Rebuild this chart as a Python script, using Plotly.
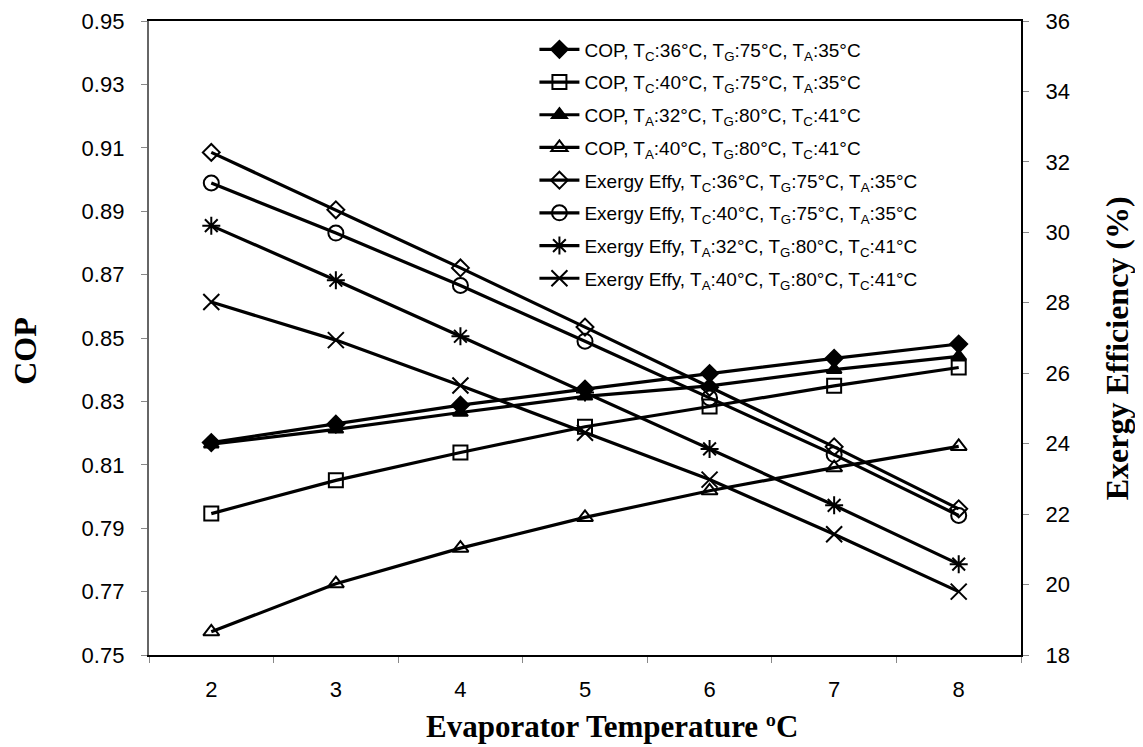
import plotly.graph_objects as go

evap_temp = [2, 3, 4, 5, 6, 7, 8]

cop_tc36 = [0.8170, 0.8228, 0.8288, 0.8339, 0.8388, 0.8436, 0.8481]
cop_tc40 = [0.7946, 0.8051, 0.8139, 0.8220, 0.8284, 0.8349, 0.8407]
cop_ta32 = [0.8165, 0.8212, 0.8265, 0.8316, 0.8349, 0.8400, 0.8442]
cop_ta40 = [0.7573, 0.7725, 0.7837, 0.7934, 0.8018, 0.8091, 0.8158]

ex_tc36 = [32.27, 30.64, 28.99, 27.31, 25.60, 23.91, 22.15]
ex_tc40 = [31.40, 29.98, 28.49, 26.91, 25.30, 23.69, 21.96]
ex_ta32 = [30.19, 28.64, 27.05, 25.45, 23.85, 22.25, 20.58]
ex_ta40 = [28.02, 26.94, 25.65, 24.31, 22.98, 21.43, 19.80]

names = [
    "COP, T<sub>C</sub>:36°C, T<sub>G</sub>:75°C, T<sub>A</sub>:35°C",
    "COP, T<sub>C</sub>:40°C, T<sub>G</sub>:75°C, T<sub>A</sub>:35°C",
    "COP, T<sub>A</sub>:32°C, T<sub>G</sub>:80°C, T<sub>C</sub>:41°C",
    "COP, T<sub>A</sub>:40°C, T<sub>G</sub>:80°C, T<sub>C</sub>:41°C",
    "Exergy Effy, T<sub>C</sub>:36°C, T<sub>G</sub>:75°C, T<sub>A</sub>:35°C",
    "Exergy Effy, T<sub>C</sub>:40°C, T<sub>G</sub>:75°C, T<sub>A</sub>:35°C",
    "Exergy Effy, T<sub>A</sub>:32°C, T<sub>G</sub>:80°C, T<sub>C</sub>:41°C",
    "Exergy Effy, T<sub>A</sub>:40°C, T<sub>G</sub>:80°C, T<sub>C</sub>:41°C",
]
series = [cop_tc36, cop_tc40, cop_ta32, cop_ta40, ex_tc36, ex_tc40, ex_ta32, ex_ta40]
symbols = ["diamond", "square-open", "triangle-up", "triangle-up-open",
           "diamond-open", "circle-open", "asterisk-open", "x-thin-open"]
sizes = [13, 14, 13, 14, 13, 15, 15, 16]
axes = ["y", "y", "y", "y", "y2", "y2", "y2", "y2"]

fig = go.Figure()
for i, (nm, vals, sym, sz, ax) in enumerate(zip(names, series, symbols, sizes, axes)):
    fig.add_trace(go.Scatter(
        x=evap_temp, y=vals, name=nm, yaxis=ax, mode="lines+markers",
        legendgroup=f"g{i}",
        line=dict(color="black", width=3.2),
        marker=dict(symbol=sym, size=sz, color="black",
                    line=dict(color="black", width=2)),
    ))

tickfont = dict(family="Liberation Sans, Arial", size=22, color="black")
serif = "Liberation Serif, Times New Roman"

fig.update_layout(
    width=1143, height=747,
    margin=dict(l=141, r=130, t=13, b=100),
    paper_bgcolor="white", plot_bgcolor="white",
    showlegend=True,
    legend=dict(x=0.442, y=0.985, xanchor="left", yanchor="top",
                bgcolor="rgba(0,0,0,0)", tracegroupgap=5,
                font=dict(family="Liberation Sans, Arial", size=19, color="black"),
                itemwidth=40),
    xaxis=dict(range=[1.5, 8.5], tickvals=evap_temp, ticks="outside",
               ticklen=14, tickcolor="white", automargin=False,
               tickfont=tickfont, showgrid=False, zeroline=False,
               showline=True, linecolor="black", linewidth=2, mirror=True,
               ticklabeloverflow="allow",
               minor=dict(tick0=1.5, dtick=1, ticks="outside", ticklen=6,
                          tickcolor="#888888", tickwidth=1, showgrid=False)),
    yaxis=dict(range=[0.75, 0.95], tick0=0.75, dtick=0.02, tickformat=".2f",
               ticks="outside", ticklen=6, tickcolor="#888888", ticksuffix="  ",
               tickfont=tickfont, showgrid=False, zeroline=False, automargin=False,
               ticklabeloverflow="allow",
               showline=True, linecolor="#666666", linewidth=2),
    yaxis2=dict(range=[18, 36], tick0=18, dtick=2, overlaying="y", side="right",
                ticks="outside", ticklen=6, tickcolor="#888888", tickprefix="  ",
                tickfont=tickfont, showgrid=False, zeroline=False, automargin=False,
                ticklabeloverflow="allow",
                showline=True, linecolor="black", linewidth=2),
    annotations=[
        dict(text="<b>Evaporator Temperature ºC</b>", xref="paper", yref="paper",
             x=0.531, y=-0.113, xanchor="center", yanchor="middle", showarrow=False,
             font=dict(family=serif, size=31, color="black")),
        dict(text="<b>COP</b>", xref="paper", yref="paper", textangle=-90,
             x=-0.142, y=0.48, xanchor="center", yanchor="middle", showarrow=False,
             font=dict(family=serif, size=32, color="black")),
        dict(text="<b>Exergy Efficiency (%)</b>", xref="paper", yref="paper", textangle=-90,
             x=1.111, y=0.4835, xanchor="center", yanchor="middle", showarrow=False,
             font=dict(family=serif, size=32, color="black")),
    ],
)

fig.write_html("out.html")
